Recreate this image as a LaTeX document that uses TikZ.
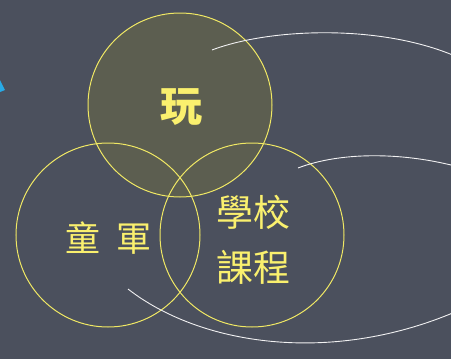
\documentclass[tikz,border=0pt]{standalone}
\usepackage{fontspec}
\newfontfamily\cjk{Noto Sans CJK TC}
\usetikzlibrary{positioning}
\definecolor{board}{RGB}{75,80,93}
\definecolor{chalk}{RGB}{240,232,100}
\definecolor{ink}{RGB}{250,240,110}
\definecolor{playfill}{RGB}{92,94,80}
\definecolor{tip}{RGB}{40,170,230}

\begin{document}
\begin{tikzpicture}[x=1pt, y=-1pt,
    ring/.style={draw=chalk, line width=1pt, circle, minimum size=184pt, inner sep=0pt},
    word/.style={text=ink, font=\cjk\fontsize{35}{40}\selectfont, align=center},
    chalkline/.style={draw=white!92!board, line width=0.9pt}]
    \fill[board] (0,0) rectangle (451,359);
    \useasboundingbox (0,0) rectangle (451,359);
    \node[ring, fill=playfill] (play) at (180,105) {};
    \node[ring] (scout) at (108,235) {};
    \node[ring] (school) at (252,235) {};
    \node[word, font=\cjk\bfseries\fontsize{42}{44}\selectfont] (playtxt) at (181,107) {玩};
    \node[word] (scouttxt) at (109,238) {童\hspace{16pt}軍};
    \node[word, font=\cjk\fontsize{37}{55}\selectfont] (schooltxt) at (253,240) {學校\\課程};
    % notes lines
    \coordinate (n1) at (212,50);
    \coordinate (n2) at (298,168);
    \coordinate (n3) at (128,289);
    \coordinate (e1) at (455,56);
    \coordinate (e2) at (455,166);
    \coordinate (e3) at (455,312);
    \draw[chalkline] (n1) .. controls (270,28) and (380,24) .. (e1);
    \draw[chalkline] (n2) .. controls (340,152) and (400,152) .. (e2);
    \draw[chalkline] (n3) .. controls (200,345) and (330,365) .. (e3);
    \fill[tip] (0,80) -- (5,90) -- (0,92) -- cycle;
\end{tikzpicture}
\end{document}
